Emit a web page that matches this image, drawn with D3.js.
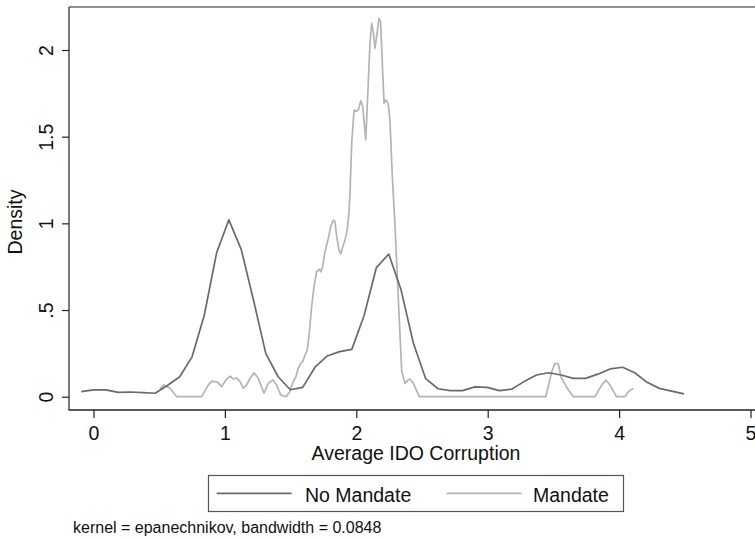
<!DOCTYPE html>
<html>
<head>
<meta charset="utf-8">
<script src="https://cdn.jsdelivr.net/npm/d3@7"></script>
<style>
  html, body { margin: 0; padding: 0; background: #fff; }
  svg { display: block; font-family: "Liberation Sans", Arial, Helvetica, sans-serif; }
</style>
</head>
<body>
<svg id="chart" width="755" height="540"></svg>
<script>
// ---- data ----
const seriesNames = ["No Mandate", "Mandate"];

const noMandateX = [-0.093, 0.000, 0.094, 0.188, 0.281, 0.375, 0.469, 0.562, 0.656, 0.750,
  0.843, 0.937, 1.030, 1.124, 1.218, 1.311, 1.405, 1.498, 1.592, 1.686,
  1.779, 1.873, 1.966, 2.060, 2.153, 2.247, 2.341, 2.434, 2.528, 2.622,
  2.715, 2.809, 2.903, 2.996, 3.090, 3.184, 3.277, 3.371, 3.464, 3.558,
  3.651, 3.745, 3.838, 3.932, 4.026, 4.119, 4.213, 4.306, 4.400, 4.494];
const noMandateY = [0.029, 0.039, 0.039, 0.025, 0.027, 0.024, 0.020, 0.065, 0.115, 0.230,
  0.470, 0.830, 1.020, 0.850, 0.556, 0.250, 0.115, 0.040, 0.054, 0.170,
  0.235, 0.260, 0.273, 0.470, 0.745, 0.823, 0.615, 0.310, 0.104, 0.046,
  0.035, 0.035, 0.057, 0.054, 0.035, 0.044, 0.087, 0.125, 0.138, 0.125,
  0.106, 0.106, 0.130, 0.160, 0.170, 0.138, 0.083, 0.048, 0.032, 0.016];

const mandateX = [0.506, 0.537, 0.580, 0.633, 0.823, 0.874, 0.900, 0.940, 0.976, 1.008,
  1.039, 1.064, 1.090, 1.115, 1.140, 1.166, 1.190, 1.221, 1.254, 1.298,
  1.330, 1.364, 1.394, 1.425, 1.465, 1.495, 1.520, 1.540, 1.559, 1.577,
  1.592, 1.610, 1.627, 1.642, 1.660, 1.678, 1.698, 1.718, 1.729, 1.741,
  1.762, 1.787, 1.805, 1.825, 1.838, 1.851, 1.868, 1.881, 1.897, 1.914,
  1.931, 1.944, 1.952, 1.965, 1.983, 1.998, 2.015, 2.034, 2.049, 2.072,
  2.091, 2.104, 2.117, 2.129, 2.142, 2.160, 2.172, 2.185, 2.198, 2.211,
  2.225, 2.243, 2.256, 2.274, 2.295, 2.320, 2.346, 2.371, 2.392, 2.409,
  2.434, 2.480, 3.442, 3.487, 3.512, 3.537, 3.558, 3.576, 3.614, 3.652,
  3.817, 3.868, 3.900, 3.930, 3.980, 4.045, 4.070, 4.108];
const mandateY = [0.045, 0.068, 0.050, 0.000, 0.000, 0.068, 0.090, 0.085, 0.058, 0.098,
  0.118, 0.102, 0.108, 0.087, 0.050, 0.068, 0.105, 0.138, 0.106, 0.020,
  0.077, 0.097, 0.068, 0.010, 0.000, 0.030, 0.087, 0.115, 0.164, 0.192,
  0.202, 0.240, 0.270, 0.366, 0.519, 0.635, 0.721, 0.735, 0.721, 0.740,
  0.836, 0.914, 0.981, 1.019, 1.010, 0.923, 0.846, 0.823, 0.865, 0.904,
  0.962, 1.058, 1.173, 1.462, 1.654, 1.645, 1.654, 1.708, 1.673, 1.481,
  1.808, 2.040, 2.154, 2.106, 2.010, 2.106, 2.183, 2.163, 1.923, 1.692,
  1.712, 1.692, 1.596, 1.270, 0.980, 0.558, 0.144, 0.077, 0.095, 0.102,
  0.077, 0.000, 0.000, 0.144, 0.192, 0.189, 0.115, 0.087, 0.039, 0.000,
  0.000, 0.068, 0.096, 0.068, 0.000, 0.000, 0.029, 0.048];

const xTicks = [0, 1, 2, 3, 4, 5];
const xTickLabels = ["0", "1", "2", "3", "4", "5"];
const yTicks = [0, 0.5, 1, 1.5, 2];
const yTickLabels = ["0", ".5", "1", "1.5", "2"];

const xTitle = "Average IDO Corruption";
const yTitle = "Density";
const note = "kernel = epanechnikov, bandwidth = 0.0848";

// ---- layout ----
const svg = d3.select("#chart");
const plotLeft = 69, plotRight = 755, plotTop = 7, plotBottom = 410;
const FONT = 19.5;

const x = d3.scaleLinear().domain([0, 5]).range([93.5, 750.5]);
const y = d3.scaleLinear().domain([0, 2]).range([396.7, 50]);

const colors = ["#6a6a6a", "#b4b4b4"];

// plot region outline (top + left)
svg.append("line").attr("x1", plotLeft).attr("x2", plotRight + 5)
  .attr("y1", plotTop).attr("y2", plotTop)
  .attr("stroke", "#222").attr("stroke-width", 1.2);

// curves
const line = d3.line().x(d => x(d[0])).y(d => y(d[1]));
const noMandate = noMandateX.map((v, i) => [v, noMandateY[i]]);
const mandate = mandateX.map((v, i) => [v, mandateY[i]]);

svg.append("path").datum(mandate).attr("d", line)
  .attr("fill", "none").attr("stroke", colors[1]).attr("stroke-width", 1.7)
  .attr("stroke-linejoin", "round");
svg.append("path").datum(noMandate).attr("d", line)
  .attr("fill", "none").attr("stroke", colors[0]).attr("stroke-width", 1.7)
  .attr("stroke-linejoin", "round");

// x axis
const xAxis = svg.append("g").attr("transform", `translate(0,${plotBottom})`)
  .call(d3.axisBottom(x).tickValues(xTicks).tickFormat((d, i) => xTickLabels[i]).tickSize(8).tickSizeOuter(0));
xAxis.select(".domain").remove();
xAxis.selectAll(".tick line").attr("stroke", "#222").attr("stroke-width", 1.2);
xAxis.selectAll(".tick text").attr("y", 30).attr("dy", 0)
  .attr("font-size", FONT).attr("fill", "#111").attr("font-family", "Liberation Sans, Arial, sans-serif");
xAxis.append("line").attr("x1", plotLeft - 0.5).attr("x2", plotRight + 5)
  .attr("y1", 0).attr("y2", 0).attr("stroke", "#222").attr("stroke-width", 1.6);

// y axis
const yAxis = svg.append("g").attr("transform", `translate(${plotLeft},0)`)
  .call(d3.axisLeft(y).tickValues(yTicks).tickFormat((d, i) => yTickLabels[i]).tickSize(7).tickSizeOuter(0));
yAxis.select(".domain").remove();
yAxis.selectAll(".tick line").attr("stroke", "#222").attr("stroke-width", 1.2);
yAxis.selectAll(".tick text")
  .attr("x", 0).attr("dy", 0)
  .attr("text-anchor", "middle")
  .attr("transform", "translate(-15.7,0) rotate(-90)")
  .attr("font-size", FONT).attr("fill", "#111").attr("font-family", "Liberation Sans, Arial, sans-serif");
yAxis.append("line").attr("x1", 0).attr("x2", 0)
  .attr("y1", plotTop).attr("y2", plotBottom).attr("stroke", "#222").attr("stroke-width", 1.2);

// axis titles
svg.append("text").attr("x", 416).attr("y", 460).attr("text-anchor", "middle")
  .attr("font-size", FONT).attr("fill", "#111").text(xTitle);
svg.append("text").attr("transform", "translate(22,222) rotate(-90)").attr("text-anchor", "middle")
  .attr("font-size", FONT).attr("fill", "#111").text(yTitle);

// legend
const lg = svg.append("g");
lg.append("rect").attr("x", 208.5).attr("y", 475.5).attr("width", 415).attr("height", 36)
  .attr("fill", "#fff").attr("stroke", "#555").attr("stroke-width", 1.2);
const legendItems = [
  { name: seriesNames[0], color: colors[0], x0: 216.7, x1: 291.7, tx: 305 },
  { name: seriesNames[1], color: colors[1], x0: 446.7, x1: 521.7, tx: 533 }
];
legendItems.forEach(it => {
  lg.append("line").attr("x1", it.x0).attr("x2", it.x1).attr("y1", 493.3).attr("y2", 493.3)
    .attr("stroke", it.color).attr("stroke-width", 1.7);
  lg.append("text").attr("x", it.tx).attr("y", 501.7).attr("font-size", FONT)
    .attr("fill", "#111").text(it.name);
});

// note
svg.append("text").attr("x", 73).attr("y", 533).attr("font-size", 16)
  .attr("fill", "#111").text(note);
</script>
</body>
</html>
